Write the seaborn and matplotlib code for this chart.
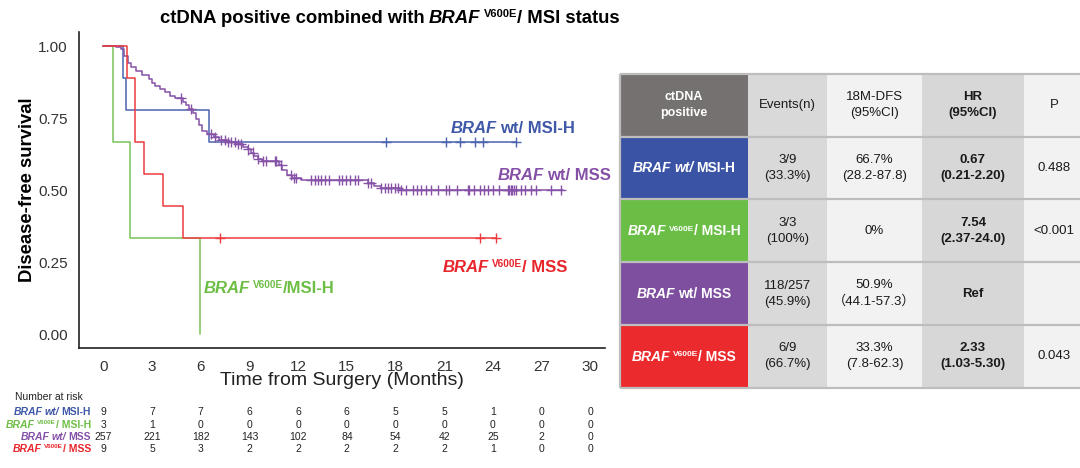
import numpy as np
import pandas as pd
import seaborn as sns
import matplotlib
matplotlib.use("Agg")
import matplotlib.pyplot as plt
from matplotlib import transforms, font_manager
from matplotlib.patches import Rectangle

##################################
# Data
##################################
groups = ["BRAF wt/ MSI-H", "BRAF V600E/ MSI-H", "BRAF wt/ MSS", "BRAF V600E/ MSS"]

# KM steps: time of drop (months) and survival after it, last entry = end of follow-up
blue_t = [0, 1.22, 1.42, 6.53, 25.4]
blue_s = [1.0, 0.889, 0.778, 0.667, 0.667]
green_t = [0, 0.61, 1.66, 5.94]
green_s = [1.0, 0.667, 0.333, 0.0]
purple_t = [0, 0.8, 1.1, 1.3, 1.5, 1.7, 2.0, 2.4, 2.8, 3.0, 3.2, 3.5, 3.8, 4.1, 4.4,
            4.9, 5.1, 5.3, 5.5, 5.7, 5.9, 6.1, 6.4, 6.8, 7.1, 7.6, 8.1, 8.6, 8.9, 9.1,
            9.3, 9.5, 9.8, 10.8, 11.0, 11.3, 11.6, 12.2, 16.3, 16.7, 17.1, 18.3, 28.3]
purple_s = [1.0, 0.996, 0.988, 0.965, 0.942, 0.926, 0.913, 0.899, 0.886, 0.873, 0.862,
            0.851, 0.840, 0.828, 0.818, 0.806, 0.795, 0.781, 0.766, 0.748, 0.725, 0.705,
            0.694, 0.683, 0.673, 0.666, 0.659, 0.651, 0.641, 0.630, 0.618, 0.608, 0.601,
            0.586, 0.570, 0.552, 0.541, 0.535, 0.524, 0.514, 0.508, 0.499, 0.499]
red_t = [0, 1.47, 1.95, 2.49, 3.67, 4.89, 24.2]
red_s = [1.0, 0.889, 0.667, 0.556, 0.444, 0.333, 0.333]

# censoring times (months)
blue_cens = [17.4, 21.1, 21.96, 22.9, 23.4, 25.4]
green_cens = []
purple_cens = [4.8, 5.4, 6.66, 6.86, 7.27, 7.48, 7.68, 7.89, 8.09, 8.3, 8.5, 8.91, 9.22,
               9.53, 9.83, 10.04, 10.55, 10.66, 10.97, 11.58, 11.74, 11.89, 12.81, 13.02,
               13.22, 13.43, 13.63, 13.9, 14.51, 14.72, 14.97, 15.17, 15.48, 15.68, 16.3,
               16.5, 17.12, 17.32, 17.53, 17.74, 17.94, 18.14, 18.35, 18.66, 19.07, 19.31,
               19.58, 19.89, 20.2, 20.6, 21.12, 21.32, 21.77, 22.45, 22.55, 22.86, 23.17,
               23.42, 23.68, 23.99, 24.4, 24.9, 25.0, 25.1, 25.2, 25.3, 25.4, 25.7, 26.0,
               26.35, 26.66, 27.58, 28.2]
red_cens = [7.2, 23.2, 24.2]

risk_times = [0, 3, 6, 9, 12, 15, 18, 21, 24, 27, 30]
risk_blue = [9, 7, 7, 6, 6, 6, 5, 5, 1, 0, 0]
risk_green = [3, 1, 0, 0, 0, 0, 0, 0, 0, 0, 0]
risk_purple = [257, 221, 182, 143, 102, 84, 54, 42, 25, 2, 0]
risk_red = [9, 5, 3, 2, 2, 2, 2, 2, 1, 0, 0]

tab_header = ["ctDNA\npositive", "Events(n)", "18M-DFS\n(95%CI)", "HR\n(95%CI)", "P"]
tab_events = ["3/9\n(33.3%)", "3/3\n(100%)", "118/257\n(45.9%)", "6/9\n(66.7%)"]
tab_dfs18 = ["66.7%\n(28.2-87.8)", "0%", "50.9%\n\uff0844.1-57.3\uff09", "33.3%\n(7.8-62.3)"]
tab_hr = ["0.67\n(0.21-2.20)", "7.54\n(2.37-24.0)", "Ref", "2.33\n(1.03-5.30)"]
tab_p = ["0.488", "<0.001", "", "0.043"]

##################################
# Style
##################################
line_colors = ["#4a63b0", "#78c35a", "#8652a8", "#ee3b3e"]
text_colors = ["#3f58a8", "#6dbe45", "#8551a7", "#e8252b"]
cell_colors = ["#3a53a4", "#6abd45", "#7f4f9f", "#eb2a2e"]

sns.set_style("white")
names = {f.name for f in font_manager.fontManager.ttflist}
SANS = "Liberation Sans"
NARROW = "Liberation Sans Narrow" if "Liberation Sans Narrow" in names else SANS
plt.rcParams["font.family"] = [SANS, "DejaVu Sans"]

W, H, DPI = 1080, 468, 100
fig = plt.figure(figsize=(W / DPI, H / DPI), dpi=DPI)

# full-figure canvas in pixel coords (y down) for table and free text
cv = fig.add_axes([0, 0, 1, 1])
cv.set_xlim(0, W)
cv.set_ylim(H, 0)
cv.axis("off")

ax = fig.add_axes([79 / W, 1 - 348.4 / H, (605 - 79) / W, (348.4 - 31.6) / H])


def rich_text(x, y, parts, transform, ha="left", size=12, color="black", family=SANS):
    """Draw text pieces one after the other (italic / superscript parts)."""
    renderer = fig.canvas.get_renderer()
    placed = []
    dx = 0.0
    for s, opts in parts:
        sup = opts.get("sup", False)
        dx += opts.get("gap", 0) * size * DPI / 72
        txt = fig.text(x, y, s, transform=transform, color=color, family=family,
                       fontsize=size * 0.6 if sup else size,
                       weight=opts.get("weight", "bold"), style=opts.get("style", "normal"),
                       va="baseline", ha="left")
        w = txt.get_window_extent(renderer).width
        placed.append((txt, dx, size * 0.33 * DPI / 72 if sup else 0))
        dx += w
    shift = {"left": 0, "center": -dx / 2, "right": -dx}[ha]
    for txt, ox, oy in placed:
        txt.set_transform(transforms.offset_copy(transform, x=ox + shift, y=oy, units="dots"))


IT = {"style": "italic"}
SP = 0.2
label_parts = [
    [("BRAF", IT), ("wt/", {"gap": SP, "style": "italic"}), ("MSI-H", {"gap": SP})],
    [("BRAF", IT), ("V600E", {"gap": SP, "sup": True}), ("/ MSI-H", {})],
    [("BRAF", IT), ("wt/ MSS", {"gap": SP})],
    [("BRAF", IT), ("V600E", {"gap": SP, "sup": True}), ("/ MSS", {})],
]
risk_label_parts = [
    [("BRAF", IT), ("wt/", {"gap": SP, "style": "italic"}), ("MSI-H", {"gap": SP})],
    [("BRAF", IT), ("V600E", {"gap": SP, "sup": True}), ("/ MSI-H", {})],
    [("BRAF", IT), ("wt/", {"gap": SP, "style": "italic"}), ("MSS", {"gap": SP})],
    [("BRAF", IT), ("V600E", {"gap": SP, "sup": True}), ("/ MSS", {})],
]
plot_label_parts = [
    [("BRAF", IT), ("wt/ MSI-H", {"gap": SP})],
    [("BRAF", IT), ("V600E", {"gap": SP, "sup": True}), ("/MSI-H", {})],
    [("BRAF", IT), ("wt/ MSS", {"gap": SP})],
    [("BRAF", IT), ("V600E", {"gap": SP, "sup": True}), ("/ MSS", {})],
]

##################################
# KM curves
##################################
curves = [(blue_t, blue_s), (green_t, green_s), (purple_t, purple_s), (red_t, red_s)]
censors = [blue_cens, green_cens, purple_cens, red_cens]

km_rows, cens_rows = [], []
for g, (t, s), cens in zip(groups, curves, censors):
    km_rows += [(g, ti, si) for ti, si in zip(t, s)]
    idx = np.searchsorted(t, cens, side="right") - 1
    cens_rows += [(g, c, s[i]) for c, i in zip(cens, idx)]
km = pd.DataFrame(km_rows, columns=["group", "time", "surv"])
cens_df = pd.DataFrame(cens_rows, columns=["group", "time", "surv"])
pal = dict(zip(groups, line_colors))

sns.lineplot(data=km, x="time", y="surv", hue="group", hue_order=groups, palette=pal,
             estimator=None, drawstyle="steps-post", lw=1.1, legend=False, ax=ax)
sns.scatterplot(data=cens_df, x="time", y="surv", hue="group", hue_order=groups, palette=pal,
                marker="+", s=55, linewidth=1.0, legend=False, ax=ax, zorder=3)

ax.set_xlim(-1.5, 30.9)
ax.set_ylim(-0.05, 1.05)
ax.set_xticks(risk_times)
ax.set_yticks([0, 0.25, 0.5, 0.75, 1.0])
ax.set_yticklabels(["0.00", "0.25", "0.50", "0.75", "1.00"])
for side in ["top", "right"]:
    ax.spines[side].set_visible(False)
for side in ["left", "bottom"]:
    ax.spines[side].set_color("#222222")
    ax.spines[side].set_linewidth(1.2)
ax.tick_params(direction="out", length=4, width=1, color="#333333", labelsize=11,
               labelcolor="#333333", pad=4)
for lbl in ax.get_xticklabels() + ax.get_yticklabels():
    lbl.set_family(NARROW)
ax.set_xlabel("Time from Surgery (Months)", fontsize=14, family=NARROW, color="#222222")
ax.xaxis.set_label_coords(0.5, -0.075)
ax.set_ylabel("Disease-free survival", fontsize=13.3, weight="bold", color="black")
ax.yaxis.set_label_coords(-0.082, 0.5)

# curve labels (data coords of the text baseline start)
label_pos = [(21.4, 0.698), (6.18, 0.142), (24.3, 0.535), (20.9, 0.215)]
for parts, (lx, ly), col in zip(plot_label_parts, label_pos, text_colors):
    rich_text(lx, ly, parts, ax.transData, size=12, color=col)

# title
rich_text(390, 23, [("ctDNA positive combined with", {}), ("BRAF", {"gap": SP, "style": "italic"}),
                    ("V600E", {"gap": SP, "sup": True}), ("/ MSI status", {})],
          cv.transData, ha="center", size=13.3)

##################################
# Number at risk
##################################
cv.text(15, 400.5, "Number at risk", fontsize=7.5, va="baseline", ha="left", color="#222222")
risk = [risk_blue, risk_green, risk_purple, risk_red]
row_base = [415, 427.5, 439.5, 451.5]
blend = transforms.blended_transform_factory(ax.transData, cv.transData)
for parts, col, vals, yb in zip(risk_label_parts, text_colors, risk, row_base):
    rich_text(91, yb, parts, cv.transData, ha="right", size=7.5, color=col)
    for t, v in zip(risk_times, vals):
        fig.text(t, yb, str(v), transform=blend, fontsize=7.5, ha="center",
                 va="baseline", color="#222222", clip_on=False)

##################################
# Summary table
##################################
col_edges = [620, 748, 827, 922, 1024, 1090]
row_edges = [74, 136.7, 199.3, 262.3, 325, 387.7]
col_bg = ["", "#d9d9d9", "#f2f2f2", "#d7d7d7", "#f2f2f2"]
bold_col = [True, False, False, True, False]
cols = [tab_events, tab_dfs18, tab_hr, tab_p]

for r in range(5):
    y0, y1 = row_edges[r], row_edges[r + 1]
    yc = (y0 + y1) / 2
    for c in range(5):
        x0, x1 = col_edges[c], col_edges[c + 1]
        xc = (x0 + min(x1, W)) / 2 if c < 4 else (x0 + 1080) / 2 + 2
        if c == 0:
            face = "#767171" if r == 0 else cell_colors[r - 1]
        else:
            face = col_bg[c]
        cv.add_patch(Rectangle((x0, y0), x1 - x0, y1 - y0, facecolor=face, edgecolor="none"))
        if c == 0 and r == 0:
            cv.text(xc, yc, tab_header[0], ha="center", va="center", fontsize=9,
                    weight="bold", color="white", linespacing=1.45)
        elif c == 0:
            rich_text(xc, yc + 4.5, label_parts[r - 1], cv.transData, ha="center",
                      size=10, color="white")
        else:
            s = tab_header[c] if r == 0 else cols[c - 1][r - 1]
            cv.text(xc, yc, s, ha="center", va="center", fontsize=9.5,
                    weight="bold" if bold_col[c] else "normal", color="#1a1a1a",
                    linespacing=1.45, family=[SANS, "Noto Sans CJK SC"])
cv.hlines(row_edges, col_edges[0], W, color="#bdbdbd", lw=1.6)
cv.vlines(col_edges[0], row_edges[0], row_edges[-1], color="#bdbdbd", lw=1.6)

fig.savefig("out.png", dpi=DPI, facecolor="white")
